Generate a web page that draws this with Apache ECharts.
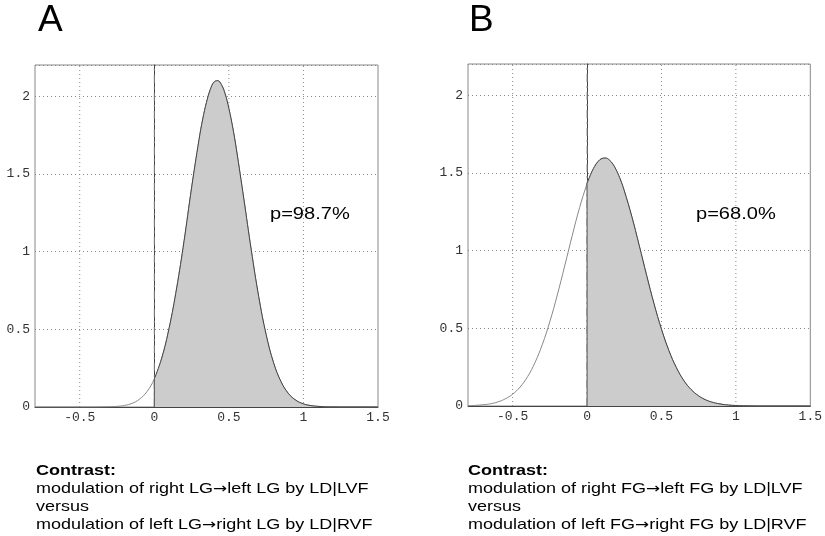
<!DOCTYPE html>
<html>
<head>
<meta charset="utf-8">
<script src="https://cdn.jsdelivr.net/npm/echarts@6/dist/echarts.min.js"></script>
<style>
html,body{margin:0;padding:0;background:#fff;}
#chart{width:825px;height:536px;}
</style>
</head>
<body>
<div id="chart"></div>
<script>
// ---- data ----
const xValuesA = [-0.8,-0.75,-0.7,-0.65,-0.6,-0.55,-0.5,-0.45,-0.4,-0.35,-0.3,-0.25,-0.2,-0.15,-0.1,-0.05,
  0,0.05,0.1,0.15,0.2,0.25,0.3,0.325,0.35,0.375,0.4,0.425,0.45,0.475,0.5,0.525,0.55,0.6,0.65,0.7,0.75,0.8,0.85,0.9,0.95,1.0,
  1.05,1.1,1.15,1.2,1.25,1.3,1.35,1.4,1.45,1.5];
const densityA = [0,0,0,0,0,0,0,0,0,0.001,0.002,0.004,0.010,0.023,0.050,0.098,
  0.18,0.315,0.51,0.765,1.07,1.41,1.72,1.853,1.96,2.041,2.09,2.099,2.074,2.014,1.92,1.802,1.66,1.34,1.01,0.71,0.465,0.284,0.162,0.086,0.043,0.020,
  0.009,0.004,0.001,0.0005,0,0,0,0,0,0];
const xValuesB = [-0.8,-0.75,-0.7,-0.65,-0.6,-0.55,-0.5,-0.45,-0.4,-0.35,-0.3,-0.25,-0.2,-0.15,-0.1,-0.05,
  0,0.025,0.05,0.075,0.1,0.125,0.15,0.175,0.2,0.225,0.25,0.3,0.35,0.4,0.45,0.5,0.55,0.6,0.65,0.7,0.75,0.8,0.85,0.9,0.95,1.0,
  1.05,1.1,1.15,1.2,1.25,1.3,1.35,1.4,1.45,1.5];
const densityB = [0.002,0.004,0.008,0.014,0.026,0.046,0.076,0.122,0.188,0.279,0.397,0.543,0.714,0.902,1.095,1.277,
  1.430,1.491,1.540,1.574,1.592,1.595,1.582,1.554,1.510,1.454,1.385,1.221,1.034,0.841,0.657,0.494,0.356,0.247,0.164,0.105,0.065,0.038,0.022,0.012,0.006,0.003,
  0.0015,0.0007,0,0,0,0,0,0,0,0];
const xTickLabels = [-0.5, 0, 0.5, 1, 1.5];
const xGridValues = [-0.5, 0.5, 1];
const panelLetters = ['A', 'B'];
const pLabels = ['p=98.7%', 'p=68.0%'];
const contrastTexts = [
  ['Contrast:', 'modulation of right LG\u2192left LG by LD|LVF', 'versus', 'modulation of left LG\u2192right LG by LD|RVF'],
  ['Contrast:', 'modulation of right FG\u2192left FG by LD|LVF', 'versus', 'modulation of left FG\u2192right FG by LD|RVF']
];

// ---- layout ----
const X_MIN = -0.8, X_MAX = 1.5, Y_MIN = 0, Y_MAX = 2.2;
const grids = [
  {left: 35, top: 65, width: 343, height: 342},
  {left: 468, top: 64, width: 343, height: 342}
];
const panels = [[xValuesA, densityA], [xValuesB, densityB]];

const chart = echarts.init(document.getElementById('chart'), null, {renderer: 'canvas'});

const monoFont = 'Liberation Mono';
const xAxes = [], yAxes = [], series = [];
grids.forEach((g, i) => {
  xAxes.push({
    type: 'value', gridIndex: i, min: X_MIN, max: X_MAX,
    axisLine: {show: true, onZero: false, lineStyle: {color: '#444', width: 1}},
    axisTick: {show: false},
    splitLine: {show: false},
    axisLabel: {customValues: xTickLabels, fontFamily: monoFont, fontSize: 13, color: '#333', margin: 4}
  });
  yAxes.push({
    type: 'value', gridIndex: i, min: Y_MIN, max: Y_MAX, interval: 0.5,
    axisLine: {show: true, lineStyle: {color: '#444', width: 1}},
    axisTick: {show: false},
    splitLine: {show: true, lineStyle: {color: '#888', width: 1, type: [1, 3]}},
    axisLabel: {fontFamily: monoFont, fontSize: 13, color: '#333', margin: 5, showMaxLabel: false}
  });
  // vertical grid lines at tick values
  xGridValues.forEach(v => {
    series.push({
      type: 'line', xAxisIndex: i, yAxisIndex: i, z: 1, silent: true, showSymbol: false, animation: false,
      data: [[v, Y_MIN], [v, Y_MAX]],
      lineStyle: {color: '#888', width: 1, type: [1, 3]}
    });
  });
  series.push({
    type: 'line', xAxisIndex: i, yAxisIndex: i, z: 1, silent: true, showSymbol: false, animation: false,
    data: [[0, Y_MIN], [0, Y_MAX]],
    lineStyle: {color: '#888', width: 1, type: [8, 4, 2, 4]}
  });
  const xs = panels[i][0], d = panels[i][1];
  const full = xs.map((x, k) => [x, d[k]]);
  const shaded = full.filter(p => p[0] >= 0);
  series.push({
    type: 'line', xAxisIndex: i, yAxisIndex: i, data: full, z: 2,
    showSymbol: false, smooth: 0.4, animation: false,
    lineStyle: {color: '#888', width: 1}
  });
  series.push({
    type: 'line', xAxisIndex: i, yAxisIndex: i, data: shaded, z: 3,
    showSymbol: false, smooth: 0.4, animation: false,
    lineStyle: {color: '#444', width: 1},
    areaStyle: {color: '#cccccc', opacity: 1}
  });
  // dark boundary at x = 0 of the shaded region
  series.push({
    type: 'line', xAxisIndex: i, yAxisIndex: i, z: 4, silent: true, showSymbol: false, animation: false,
    data: [[0, Y_MIN], [0, d[xs.indexOf(0)]]],
    lineStyle: {color: '#555', width: 1}
  });
});

const sans = '"Liberation Sans", Arial, sans-serif';
const graphics = [];
const letterX = [38, 469];
const pX = [270, 696];
const textX = [36, 468];
function richify(t) {
  return t.replace('\u2192', '{ar|\u2192}');
}
grids.forEach((g, i) => {
  graphics.push({type: 'text', x: letterX[i], y: 21, style: {text: panelLetters[i], font: '37px ' + sans, fill: '#000', textVerticalAlign: 'middle'}});
  graphics.push({type: 'text', x: pX[i], y: 214, scaleX: 1.18, style: {text: pLabels[i], font: '17px ' + sans, fill: '#000', textVerticalAlign: 'middle'}});
  contrastTexts[i].forEach((t, k) => {
    graphics.push({type: 'text', x: textX[i], y: 471 + k * 18, scaleX: 1.2,
      style: {
        text: richify(t),
        fontFamily: 'Liberation Sans', fontSize: 15, fontWeight: k === 0 ? 'bold' : 'normal',
        fill: '#000', verticalAlign: 'middle',
        rich: {ar: {fontFamily: 'DejaVu Sans', fontSize: 14, fill: '#000'}}
      }});
  });
});

chart.setOption({
  animation: false,
  backgroundColor: '#fff',
  grid: grids.map(g => Object.assign({show: true, borderColor: '#888', borderWidth: 1, backgroundColor: 'transparent'}, g)),
  xAxis: xAxes,
  yAxis: yAxes,
  series: series,
  graphic: graphics
});
</script>
</body>
</html>
